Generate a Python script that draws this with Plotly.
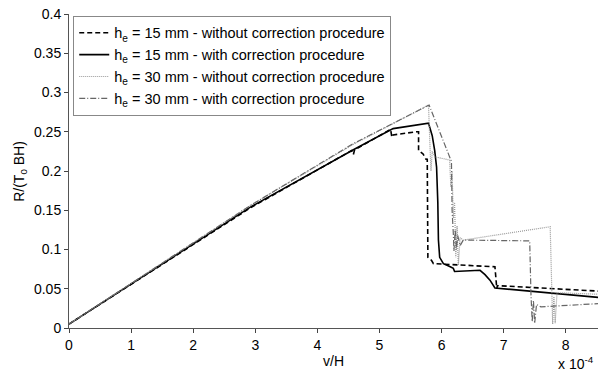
import plotly.graph_objects as go

# x values in units of 1e-4 (v/H), y = R/(T0 BH)
x_15_wo = [0, 2.92, 4.55, 4.58, 4.60, 5.18, 5.20, 5.22, 5.60, 5.63, 5.63, 5.66, 5.70, 5.75, 5.77, 5.78, 5.84, 5.87, 6.86, 6.89, 6.90, 8.52]
y_15_wo = [0.005, 0.153, 0.226, 0.221, 0.227, 0.253, 0.243, 0.246, 0.250, 0.250, 0.226, 0.224, 0.222, 0.215, 0.215, 0.090, 0.086, 0.082, 0.078, 0.050, 0.054, 0.047]

x_15_w = [0, 2.92, 4.58, 5.22, 5.79, 5.85, 5.89, 5.92, 5.94, 5.95, 5.97, 6.03, 6.14, 6.19, 6.21, 6.62, 6.70, 6.78, 6.86, 8.52]
y_15_w = [0.005, 0.154, 0.227, 0.254, 0.261, 0.245, 0.226, 0.205, 0.160, 0.112, 0.090, 0.082, 0.078, 0.076, 0.072, 0.0735, 0.068, 0.061, 0.051, 0.039]

x_30_wo = [0, 2.92, 4.58, 5.79, 5.81, 5.83, 5.85, 5.89, 6.13, 6.15, 6.17, 6.19, 6.21, 6.23, 6.25, 6.27, 6.30, 6.35, 7.75, 7.77, 7.79, 7.81, 7.83, 7.86, 8.52]
y_30_wo = [0.005, 0.156, 0.234, 0.284, 0.240, 0.200, 0.225, 0.218, 0.214, 0.180, 0.200, 0.140, 0.160, 0.090, 0.130, 0.080, 0.115, 0.112, 0.129, 0.050, 0.005, 0.040, 0.006, 0.045, 0.043]

x_30_w = [0, 2.92, 4.58, 5.80, 6.16, 6.17, 6.19, 6.20, 6.22, 6.24, 6.26, 6.30, 6.35, 7.42, 7.44, 7.46, 7.48, 7.50, 7.53, 7.60, 8.52]
y_30_w = [0.005, 0.156, 0.235, 0.284, 0.212, 0.150, 0.120, 0.098, 0.125, 0.100, 0.118, 0.105, 0.112, 0.111, 0.044, 0.008, 0.035, 0.006, 0.030, 0.027, 0.031]

names = [
    "h<sub>e</sub> = 15 mm - without correction procedure",
    "h<sub>e</sub> = 15 mm - with correction procedure",
    "h<sub>e</sub> = 30 mm - without correction procedure",
    "h<sub>e</sub> = 30 mm - with correction procedure",
]
x_ticks = [0, 1, 2, 3, 4, 5, 6, 7, 8]
y_ticks = [0, 0.05, 0.1, 0.15, 0.2, 0.25, 0.3, 0.35, 0.4]
y_tick_text = ["0", "0.05", "0.1", "0.15", "0.2", "0.25", "0.3", "0.35", "0.4"]

FONT = "Liberation Sans, Arial, sans-serif"

fig = go.Figure()
fig.add_trace(go.Scatter(x=x_15_wo, y=y_15_wo, mode="lines", name=names[0], legendgroup="a",
                         line=dict(color="black", width=1.6, dash="5px,3px")))
fig.add_trace(go.Scatter(x=x_15_w, y=y_15_w, mode="lines", name=names[1], legendgroup="b",
                         line=dict(color="black", width=1.6)))
fig.add_trace(go.Scatter(x=x_30_wo, y=y_30_wo, mode="lines", name=names[2], legendgroup="c",
                         line=dict(color="#999999", width=1.2, dash="1px,1px")))
fig.add_trace(go.Scatter(x=x_30_w, y=y_30_w, mode="lines", name=names[3], legendgroup="d",
                         line=dict(color="#666666", width=1.2, dash="6px,2px,1px,2px")))

fig.update_layout(
    width=598, height=376,
    margin=dict(l=69, r=0, t=14, b=48),
    paper_bgcolor="white", plot_bgcolor="white",
    font=dict(family=FONT, size=14, color="black"),
    showlegend=True,
    legend=dict(x=0.008, y=0.994, xanchor="left", yanchor="top",
                bgcolor="white", bordercolor="#888888", borderwidth=1,
                font=dict(size=14.5), itemwidth=30, tracegroupgap=0),
    xaxis=dict(range=[0, 8.52], tickvals=x_ticks, ticks="outside", ticklen=4,
               showline=True, linecolor="#555555", linewidth=1, showgrid=False,
               zeroline=False, tickfont=dict(size=14),
               title=dict(text="v/H", font=dict(size=14), standoff=4)),
    yaxis=dict(range=[0, 0.4], tickvals=y_ticks, ticktext=y_tick_text, ticks="outside",
               ticklen=4, showline=True, linecolor="#555555", linewidth=1,
               showgrid=False, zeroline=False, tickfont=dict(size=14)),
    annotations=[
        dict(text="R/(T<sub>0</sub> BH)", textangle=-90, xref="paper", yref="paper",
             x=-0.093, y=0.50, xanchor="center", yanchor="middle", showarrow=False,
             font=dict(size=14)),
        dict(text="x 10<sup>-4</sup>", xref="paper", yref="paper", x=0.996, y=-0.145,
             xanchor="right", yanchor="bottom", showarrow=False, font=dict(size=14)),
    ],
)

fig.write_html("out.html")
